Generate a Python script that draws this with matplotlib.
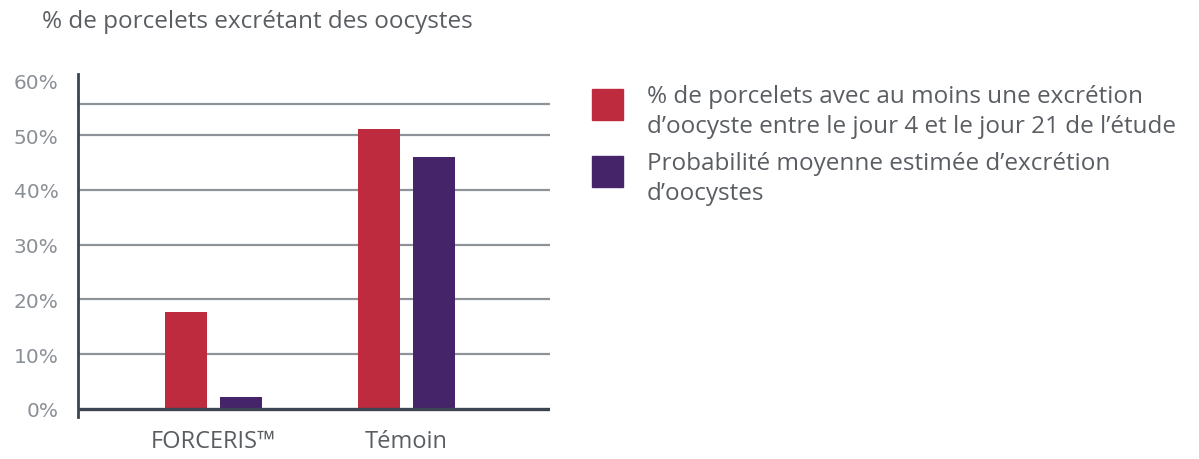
import matplotlib.pyplot as plt
from matplotlib.patches import Rectangle
import numpy as np

plt.rcParams['font.family'] = ['Open Sans', 'DejaVu Sans']

# data
groups = ['FORCERIS™', 'Témoin']
excretion_pct = [17.7, 51.2]
probabilite = [2.1, 46.0]
series_labels = ["% de porcelets avec au moins une excrétion\nd’oocyste entre le jour 4 et le jour 21 de l’étude",
                 "Probabilité moyenne estimée d’excrétion\nd’oocystes"]
yticks = [0, 10, 20, 30, 40, 50, 60]

colors = ['#BE2A3E', '#46246A']
grid_color = '#8e9399'
axis_color = '#3b4550'
text_color = '#5a5e63'

W, H = 1199, 460
fig = plt.figure(figsize=(W / 100, H / 100), dpi=100)
ax = fig.add_axes([78 / W, 1 - 418 / H, 472 / W, 343 / H])

x = np.arange(len(groups))
w = 0.218
off = 0.142

# grid lines
for t in yticks[1:-1]:
    ax.axhline(t, color=grid_color, lw=1.6, zorder=1)
ax.axhline(55.7, color=grid_color, lw=1.6, zorder=1)

ax.bar(x - off, excretion_pct, w, color=colors[0], zorder=2)
ax.bar(x + off, probabilite, w, color=colors[1], zorder=2)
ax.axhline(0, color=axis_color, lw=2.4, zorder=3)

ax.set_xlim(-0.702, 1.744)
ax.set_ylim(-1.5, 61.2)
ax.set_yticks(yticks)
ax.set_yticklabels([f'{t}%' for t in yticks], family='DejaVu Sans')
ax.set_xticks(x)
ax.set_xticklabels(groups)
ax.tick_params(axis='y', length=0, pad=14, labelsize=14.5, labelcolor='#8b9096')
ax.tick_params(axis='x', length=0, pad=9, labelsize=17, labelcolor=text_color)

for s in ['top', 'right', 'bottom']:
    ax.spines[s].set_visible(False)
ax.spines['left'].set_color(axis_color)
ax.spines['left'].set_linewidth(2)

fig.text(42 / W, 1 - 22 / H, '% de porcelets excrétant des oocystes', fontsize=17.5,
         color=text_color, ha='left', va='center')

# legend (drawn by hand to match square size and spacing)
sq_top = [90, 157]
for c, lab, top in zip(colors, series_labels, sq_top):
    fig.patches.append(Rectangle((592 / W, 1 - (top + 31) / H), 31 / W, 31 / H,
                                 transform=fig.transFigure, color=c))
    fig.text(647 / W, 1 - (top + 22) / H, lab, fontsize=17.5, color=text_color,
             ha='left', va='center', linespacing=1.3)

plt.savefig('out.png', dpi=100)
